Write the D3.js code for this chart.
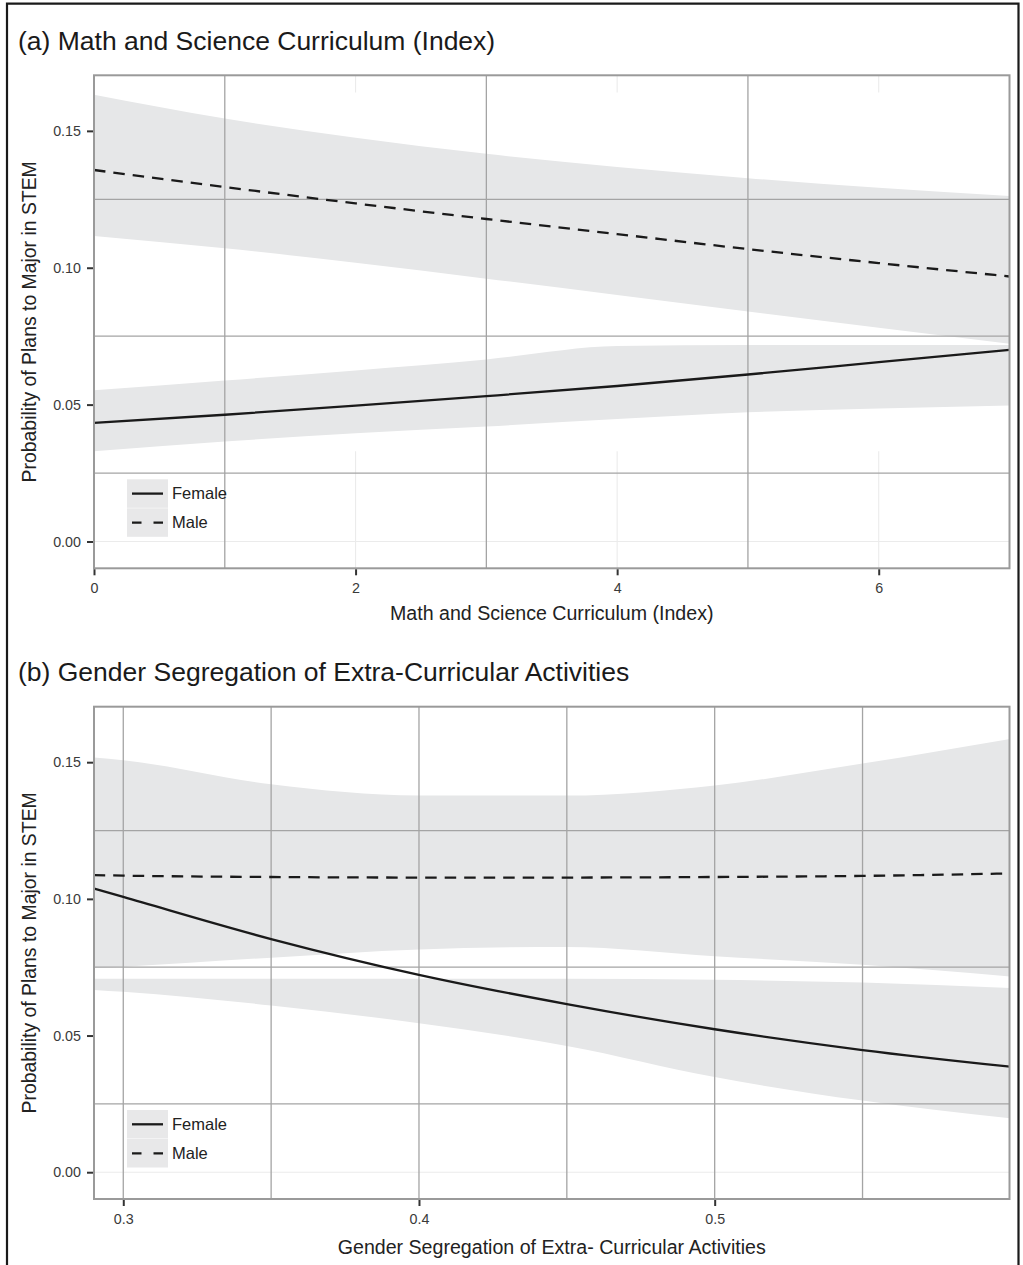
<!DOCTYPE html>
<html>
<head>
<meta charset="utf-8">
<script src="https://cdn.jsdelivr.net/npm/d3@7"></script>
<style>
  body { margin: 0; background: #fff; }
  text { font-family: "Liberation Sans", Arial, Helvetica, sans-serif; }
</style>
</head>
<body>
<div id="chart"></div>
<script>
// ---- panel (a) data: math & science curriculum index ----
let curricX        = [0, 1, 2, 3, 4, 5, 6, 7];
let curricFemale   = [0.0433, 0.0463, 0.0496, 0.0531, 0.0568, 0.0610, 0.0655, 0.0700];
let curricFemaleLo = [0.0330, 0.0365, 0.0395, 0.0420, 0.0447, 0.0472, 0.0486, 0.0497];
let curricFemaleHi = [0.0552, 0.0588, 0.0625, 0.0665, 0.0714, 0.0718, 0.0718, 0.0718];
let curricMale     = [0.1357, 0.1295, 0.1235, 0.1178, 0.1123, 0.1068, 0.1017, 0.0968];
let curricMaleLo   = [0.1116, 0.1071, 0.1018, 0.0960, 0.0900, 0.0840, 0.0781, 0.0722];
let curricMaleHi   = [0.1632, 0.1545, 0.1475, 0.1416, 0.1368, 0.1327, 0.1292, 0.1262];
let curricTicks    = [0, 2, 4, 6];
let curricMinor    = [1, 3, 5];

// ---- panel (b) data: gender segregation of extra-curricular activities ----
let segX        = [0.29, 0.30, 0.35, 0.40, 0.45, 0.50, 0.55, 0.60];
let segFemale   = [0.1038, 0.1007, 0.0853, 0.0722, 0.0615, 0.0523, 0.0447, 0.0386];
let segFemaleLo = [0.0667, 0.0660, 0.0610, 0.0545, 0.0462, 0.0348, 0.0262, 0.0197];
let segFemaleHi = [0.0708, 0.0708, 0.0708, 0.0708, 0.0708, 0.0704, 0.0694, 0.0674];
let segMale     = [0.1087, 0.1085, 0.1080, 0.1078, 0.1078, 0.1080, 0.1084, 0.1093];
let segMaleLo   = [0.0747, 0.0752, 0.0785, 0.0815, 0.0824, 0.0790, 0.0759, 0.0716];
let segMaleHi   = [0.1517, 0.1507, 0.1419, 0.1378, 0.1378, 0.1415, 0.1495, 0.1585];
let segTicks    = [0.3, 0.4, 0.5];
let segMinor    = [0.35, 0.45, 0.55];

// shared y axis
let yTicks = [0, 0.05, 0.10, 0.15];
let yMinor = [0.025, 0.075, 0.125];
let legendLabels = ['Female', 'Male'];

let W = 1023, H = 1265;
let svg = d3.select('#chart').append('svg')
    .attr('width', W).attr('height', H);

// outer frame (open at the bottom)
svg.append('path')
    .attr('d', 'M7,' + H + ' V3.7 H1018.5 V' + H)
    .attr('fill', 'none')
    .attr('stroke', '#1a1a1a')
    .attr('stroke-width', 2.2);

function rows(xs, ys) { return xs.map((x, i) => ({x: x, y: ys[i]})) }
function band(xs, lo, hi) { return xs.map((x, i) => ({x: x, lo: lo[i], hi: hi[i]})) }

function drawPanel(p) {
    let left = 94, right = 1009.5;
    let x = d3.scaleLinear().domain(p.xDomain).range([left, right]);
    let y = d3.scaleLinear().domain([-0.0098, 0.1703]).range([p.bottom, p.top]);
    let g = svg.append('g');

    let clipId = 'clip-' + p.id;
    g.append('clipPath').attr('id', clipId)
        .append('rect')
        .attr('x', left).attr('y', p.top)
        .attr('width', right - left).attr('height', p.bottom - p.top);

    // panel title
    g.append('text')
        .attr('x', 18).attr('y', p.titleY)
        .attr('font-size', 26.5)
        .attr('fill', '#1a1a1a')
        .text(p.title);

    // faint major grid, only showing near the edges of the panel
    let faint = g.append('g').attr('stroke', '#ebebeb').attr('stroke-width', 1.1);
    faint.append('line')
        .attr('x1', left).attr('x2', right)
        .attr('y1', y(0)).attr('y2', y(0));
    p.faintX.forEach(v => {
        faint.append('line')
            .attr('x1', x(v)).attr('x2', x(v))
            .attr('y1', p.bottom).attr('y2', y(0.033));
        faint.append('line')
            .attr('x1', x(v)).attr('x2', x(v))
            .attr('y1', p.top).attr('y2', y(0.164));
    });

    // confidence ribbons
    let area = d3.area().curve(d3.curveMonotoneX)
        .x(d => x(d.x)).y0(d => y(d.lo)).y1(d => y(d.hi));
    let rib = g.append('g').attr('clip-path', 'url(#' + clipId + ')');
    rib.append('path').datum(p.maleBand).attr('d', area).attr('fill', '#e6e7e8');
    rib.append('path').datum(p.femaleBand).attr('d', area).attr('fill', '#e6e7e8');

    // darker grid drawn over the ribbons
    let dark = g.append('g').attr('stroke', '#a4a4a4').attr('stroke-width', 1.3);
    dark.selectAll('.dy').data(yMinor).enter().append('line')
        .attr('x1', left).attr('x2', right)
        .attr('y1', d => y(d)).attr('y2', d => y(d));
    dark.selectAll('.dx').data(p.darkX).enter().append('line')
        .attr('x1', d => x(d)).attr('x2', d => x(d))
        .attr('y1', p.top).attr('y2', p.bottom);

    // fitted lines
    let line = d3.line().curve(d3.curveMonotoneX).x(d => x(d.x)).y(d => y(d.y));
    let ln = g.append('g').attr('clip-path', 'url(#' + clipId + ')').attr('fill', 'none');
    ln.append('path').datum(p.female).attr('d', line)
        .attr('stroke', '#1a1a1a').attr('stroke-width', 2.3);
    ln.append('path').datum(p.male).attr('d', line)
        .attr('stroke', '#1a1a1a').attr('stroke-width', 2.3)
        .attr('stroke-dasharray', '11.5,8');

    // panel border
    g.append('rect')
        .attr('x', left).attr('y', p.top)
        .attr('width', right - left).attr('height', p.bottom - p.top)
        .attr('fill', 'none').attr('stroke', '#9a9a9a').attr('stroke-width', 2);

    // axes
    let yAxis = g.append('g')
        .attr('transform', 'translate(' + (left - 1) + ',0)')
        .call(d3.axisLeft(y).tickValues(yTicks).tickFormat(d3.format('.2f'))
            .tickSize(6).tickPadding(6));
    let xAxis = g.append('g')
        .attr('transform', 'translate(0,' + (p.bottom + 1) + ')')
        .call(d3.axisBottom(x).tickValues(p.ticks).tickFormat(d3.format(p.fmt))
            .tickSize(6).tickPadding(8));
    [xAxis, yAxis].forEach(a => {
        a.select('.domain').remove();
        a.selectAll('.tick line').attr('stroke', '#333').attr('stroke-width', 2);
        a.selectAll('.tick text').attr('fill', '#3a3a3a')
            .attr('font-size', 14.3)
            .attr('font-family', '"Liberation Sans", Arial, sans-serif');
    });

    // axis titles
    g.append('text')
        .attr('x', (left + right) / 2).attr('y', p.bottom + p.xTitleOff)
        .attr('text-anchor', 'middle')
        .attr('font-size', 19.6).attr('fill', '#222')
        .text(p.xTitle);
    g.append('text')
        .attr('transform', 'translate(36,' + (p.top + p.bottom) / 2 + ') rotate(-90)')
        .attr('text-anchor', 'middle')
        .attr('font-size', 19.4).attr('fill', '#222')
        .text('Probability of Plans to Major in STEM');

    // legend
    let lg = g.append('g').attr('transform', 'translate(127,' + (p.bottom - 89) + ')');
    let keys = lg.selectAll('.key').data(legendLabels).enter().append('g')
        .attr('transform', (d, i) => 'translate(0,' + (i * 29) + ')');
    keys.append('rect').attr('width', 41).attr('height', 28.5).attr('fill', '#e8e8e9');
    keys.append('line')
        .attr('x1', 5).attr('x2', 36).attr('y1', 14.3).attr('y2', 14.3)
        .attr('stroke', '#1a1a1a').attr('stroke-width', 2.3)
        .attr('stroke-dasharray', (d, i) => i === 1 ? '9.5,12' : null);
    keys.append('text')
        .attr('x', 45).attr('y', 14.3).attr('dy', '0.35em')
        .attr('font-size', 16.5).attr('fill', '#222')
        .text(d => d);
}

drawPanel({
    id: 'a', top: 75.3, bottom: 568.3, titleY: 50,
    title: '(a) Math and Science Curriculum (Index)',
    xTitle: 'Math and Science Curriculum (Index)', xTitleOff: 52,
    xDomain: [0, 7], ticks: curricTicks, fmt: 'd',
    faintX: curricTicks, darkX: curricMinor,
    female: rows(curricX, curricFemale), male: rows(curricX, curricMale),
    femaleBand: band(curricX, curricFemaleLo, curricFemaleHi),
    maleBand: band(curricX, curricMaleLo, curricMaleHi)
});

drawPanel({
    id: 'b', top: 706.7, bottom: 1199, titleY: 680.5,
    title: '(b) Gender Segregation of Extra-Curricular Activities',
    xTitle: 'Gender Segregation of Extra- Curricular Activities', xTitleOff: 55,
    xDomain: [0.2901, 0.5997], ticks: segTicks, fmt: '.1f',
    faintX: [], darkX: segTicks.concat(segMinor),
    female: rows(segX, segFemale), male: rows(segX, segMale),
    femaleBand: band(segX, segFemaleLo, segFemaleHi),
    maleBand: band(segX, segMaleLo, segMaleHi)
});
</script>
</body>
</html>
